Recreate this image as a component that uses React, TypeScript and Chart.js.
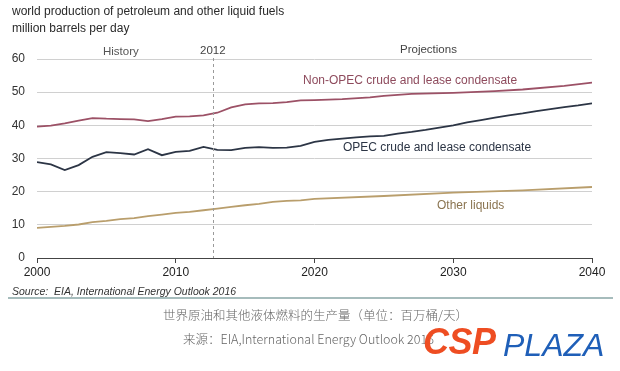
import React, { useEffect, useRef } from "react";
import { Chart, registerables } from "chart.js";

Chart.register(...registerables);

const FONT = "'Liberation Sans', Arial, Helvetica, sans-serif";

// x range and ticks
const xMin = 2000;
const xMax = 2040;
const xStep = 10;
const yMin = 0;
const yMax = 60;
const yStep = 10;
const historyEndYear = 2012.7;

// Non-OPEC crude and lease condensate
const nonOpecYears = [2000, 2001, 2002, 2003, 2004, 2005, 2006, 2007, 2008, 2009, 2010, 2011, 2012, 2013, 2014, 2015, 2016, 2017, 2018, 2019, 2020, 2022, 2024, 2025, 2027, 2030, 2033, 2035, 2038, 2040];
const nonOpecValues = [39.6, 39.9, 40.6, 41.4, 42.2, 42.0, 41.9, 41.8, 41.3, 41.9, 42.6, 42.7, 43.0, 43.8, 45.4, 46.3, 46.6, 46.7, 47.0, 47.5, 47.6, 47.9, 48.4, 48.9, 49.5, 49.8, 50.3, 50.8, 51.9, 52.9];

// OPEC crude and lease condensate
const opecYears = [2000, 2001, 2002, 2003, 2004, 2005, 2006, 2007, 2008, 2009, 2010, 2011, 2012, 2013, 2014, 2015, 2016, 2017, 2018, 2019, 2020, 2021, 2022, 2023, 2024, 2025, 2026, 2027, 2028, 2029, 2030, 2031, 2032, 2033, 2034, 2035, 2036, 2037, 2038, 2039, 2040];
const opecValues = [28.9, 28.2, 26.5, 28.0, 30.5, 31.9, 31.6, 31.2, 32.8, 31.0, 32.0, 32.3, 33.5, 32.6, 32.5, 33.2, 33.4, 33.2, 33.3, 33.8, 35.0, 35.6, 36.0, 36.4, 36.7, 36.8, 37.5, 38.0, 38.6, 39.3, 40.0, 40.9, 41.6, 42.3, 43.0, 43.6, 44.3, 44.9, 45.5, 46.0, 46.6];

// Other liquids
const otherYears = [2000, 2001, 2002, 2003, 2004, 2005, 2006, 2007, 2008, 2009, 2010, 2011, 2012, 2013, 2014, 2015, 2016, 2017, 2018, 2019, 2020, 2025, 2030, 2035, 2040];
const otherValues = [9.1, 9.4, 9.7, 10.1, 10.8, 11.2, 11.7, 12.0, 12.6, 13.1, 13.6, 13.9, 14.4, 14.9, 15.4, 15.9, 16.3, 16.9, 17.2, 17.4, 17.8, 18.7, 19.7, 20.4, 21.4];

const toPoints = (xs: number[], ys: number[]) => xs.map((x, i) => ({ x, y: ys[i] }));

const dashPlugin = {
  id: "historyDash",
  afterDatasetsDraw(chart: any) {
    const { ctx, chartArea, scales } = chart;
    const px = Math.round(scales.x.getPixelForValue(historyEndYear)) + 0.5;
    ctx.save();
    ctx.strokeStyle = "#9a9a9a";
    ctx.lineWidth = 1;
    ctx.setLineDash([3, 3]);
    ctx.beginPath();
    ctx.moveTo(px, chartArea.top - 1);
    ctx.lineTo(px, chartArea.bottom);
    ctx.stroke();
    ctx.restore();
  },
};

const abs = (s: React.CSSProperties): React.CSSProperties => ({
  position: "absolute",
  whiteSpace: "nowrap",
  lineHeight: 1,
  fontFamily: FONT,
  ...s,
});

export default function App() {
  const ref = useRef<HTMLCanvasElement | null>(null);

  useEffect(() => {
    if (!ref.current) return;
    const chart = new Chart(ref.current, {
      type: "line",
      data: {
        datasets: [
          {
            label: "Non-OPEC crude and lease condensate",
            data: toPoints(nonOpecYears, nonOpecValues),
            borderColor: "#9c5166",
            borderWidth: 1.8,
            pointRadius: 0,
            tension: 0,
          },
          {
            label: "OPEC crude and lease condensate",
            data: toPoints(opecYears, opecValues),
            borderColor: "#2c3545",
            borderWidth: 1.8,
            pointRadius: 0,
            tension: 0,
          },
          {
            label: "Other liquids",
            data: toPoints(otherYears, otherValues),
            borderColor: "#b99e6c",
            borderWidth: 1.8,
            pointRadius: 0,
            tension: 0,
          },
        ],
      },
      options: {
        animation: false,
        responsive: true,
        maintainAspectRatio: false,
        layout: { padding: { left: 0, right: 28, top: 59, bottom: 93 } },
        plugins: {
          legend: { display: false },
          tooltip: { enabled: false },
          title: { display: false },
        },
        scales: {
          x: {
            type: "linear",
            min: xMin,
            max: xMax,
            afterFit: (s: any) => {
              s.height = 20;
            },
            ticks: {
              stepSize: xStep,
              color: "#222",
              font: { family: FONT, size: 12 },
              padding: 2,
              maxRotation: 0,
              callback: (v: any) => String(v),
            },
            grid: {
              drawOnChartArea: false,
              drawTicks: true,
              tickLength: 5,
              color: "#444",
            },
            border: { display: true, color: "#444", width: 1 },
          },
          y: {
            min: yMin,
            max: yMax,
            afterFit: (s: any) => {
              s.width = 37;
            },
            ticks: {
              stepSize: yStep,
              color: "#333",
              font: { family: FONT, size: 12 },
              padding: 12,
            },
            grid: {
              color: "#d0d0d0",
              lineWidth: 1,
              drawTicks: false,
            },
            border: { display: false },
          },
        },
      },
      plugins: [dashPlugin],
    });
    return () => chart.destroy();
  }, []);

  return (
    <div style={{ position: "absolute", left: 0, top: 0, width: 620, height: 371, background: "#fff", overflow: "hidden" }}>
      <canvas ref={ref} style={{ position: "absolute", left: 0, top: 0, width: 620, height: 371 }} />
      <div style={abs({ left: 12, top: 4.5, fontSize: 12, color: "#2a2a2a" })}>
        world production of petroleum and other liquid fuels
      </div>
      <div style={abs({ left: 12, top: 21.5, fontSize: 12, color: "#2a2a2a" })}>million barrels per day</div>
      <div style={abs({ left: 103, top: 45.5, fontSize: 11.5, color: "#555" })}>History</div>
      <div style={abs({ left: 200, top: 44.5, fontSize: 11.5, color: "#444" })}>2012</div>
      <div style={abs({ left: 400, top: 43.5, fontSize: 11.5, color: "#444" })}>Projections</div>
      <div style={abs({ left: 303, top: 74, fontSize: 12, color: "#8e4b5d" })}>Non-OPEC crude and lease condensate</div>
      <div style={abs({ left: 343, top: 141, fontSize: 12, color: "#2c3545" })}>OPEC crude and lease condensate</div>
      <div style={abs({ left: 437, top: 199, fontSize: 12, color: "#8a7450" })}>Other liquids</div>
      <div style={abs({ left: 12, top: 286, fontSize: 10.5, fontStyle: "italic", color: "#333" })}>
        Source:&nbsp; EIA, International Energy Outlook 2016
      </div>
      <div style={{ position: "absolute", left: 8, top: 297, width: 605, height: 2, background: "#a6bcbc" }} />
      <div style={abs({ left: 163, top: 309, fontSize: 12.5, color: "#666", fontFamily: "'Noto Sans CJK SC', 'Noto Sans', sans-serif", fontWeight: 300 })}>
        世界原油和其他液体燃料的生产量（单位：百万桶/天）
      </div>
      <div style={abs({ left: 183, top: 333, fontSize: 12.5, color: "#666", fontFamily: "'Noto Sans CJK SC', 'Noto Sans', sans-serif", fontWeight: 300 })}>
        来源：EIA,International Energy Outlook 2016
      </div>
      <div style={abs({ left: 423, top: 324, fontSize: 36, fontWeight: 700, fontStyle: "italic", color: "#ee4d22", letterSpacing: -0.5 })}>
        CSP
      </div>
      <div style={abs({ left: 503, top: 329, fontSize: 32, fontStyle: "italic", color: "#1f5fb8" })}>PLAZA</div>
    </div>
  );
}
